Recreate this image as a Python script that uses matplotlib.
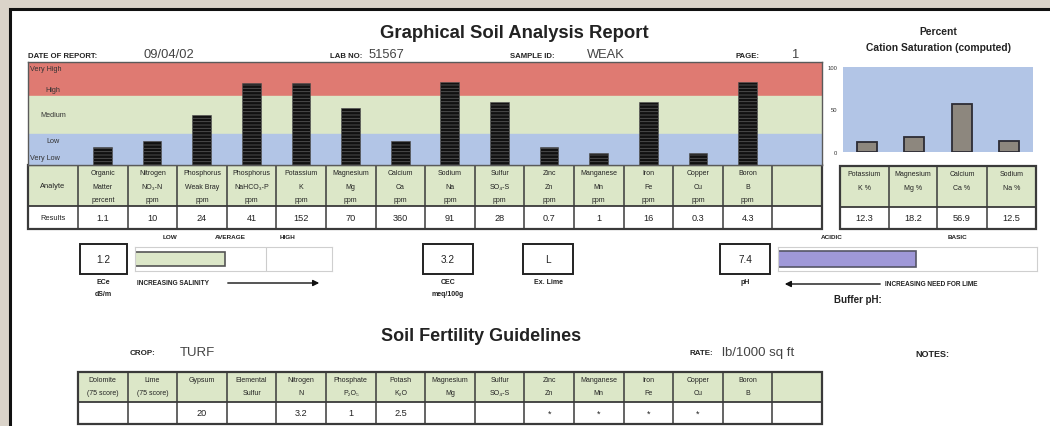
"""
Graphical Soil Analysis Report - redrawn as a single matplotlib figure.
"""

import matplotlib.pyplot as plt
import matplotlib.patches as mpatches

plt.rcParams['font.family'] = ['Liberation Sans', 'DejaVu Sans']
plt.rcParams['hatch.linewidth'] = 0.6

W, H = 1050, 427

# ---- data ---------------------------------------------------------------
report_date = '09/04/02'
lab_no = '51567'
sample_id = 'WEAK'
page_no = '1'

analytes = [
    'Organic\nMatter\npercent', 'Nitrogen\nNO₃-N\nppm', 'Phosphorus\nWeak Bray\nppm',
    'Phosphorus\nNaHCO₃-P\nppm', 'Potassium\nK\nppm', 'Magnesium\nMg\nppm',
    'Calcium\nCa\nppm', 'Sodium\nNa\nppm', 'Sulfur\nSO₄-S\nppm', 'Zinc\nZn\nppm',
    'Manganese\nMn\nppm', 'Iron\nFe\nppm', 'Copper\nCu\nppm', 'Boron\nB\nppm', '',
]
results = ['1.1', '10', '24', '41', '152', '70', '360', '91', '28', '0.7',
           '1', '16', '0.3', '4.3', '']
# relative rating (0 = very low ... 100 = very high)
ratings = [17, 23, 49, 80, 80, 55, 23, 81, 61, 17, 12, 61, 12, 81]

band_names = ['Very High', 'High', 'Medium', 'Low', 'Very Low']
band_pos = [94, 73, 49, 24, 7]

cations = ['Potassium\nK %', 'Magnesium\nMg %', 'Calcium\nCa %', 'Sodium\nNa %']
cation_pct = [12.3, 18.2, 56.9, 12.5]

ece = '1.2'
salinity_level = 1.37      # on LOW / AVERAGE / HIGH scale 0..3
cec = '3.2'
ex_lime = 'L'
ph = '7.4'
ph_value = 7.4

crop = 'TURF'
rate = 'lb/1000 sq ft'
guide_headers = [
    'Dolomite\n(75 score)', 'Lime\n(75 score)', 'Gypsum\n', 'Elemental\nSulfur',
    'Nitrogen\nN', 'Phosphate\nP₂O₅', 'Potash\nK₂O', 'Magnesium\nMg',
    'Sulfur\nSO₄-S', 'Zinc\nZn', 'Manganese\nMn', 'Iron\nFe', 'Copper\nCu',
    'Boron\nB', '',
]
guide_values = ['', '', '20', '', '3.2', '1', '2.5', '', '', '*', '*', '*', '*', '', '']

# ---- colours ------------------------------------------------------------
RED = '#df7a72'
GREEN = '#dce7c8'
BLUE = '#b2c5e6'
LINE = '#3a3a3a'


def rect(x0, y0, x1, y1):
    return [x0 / W, 1 - y1 / H, (x1 - x0) / W, (y1 - y0) / H]


fig = plt.figure(figsize=(W / 100, H / 100), dpi=100)
fig.patch.set_facecolor('#dad3c9')

pg = fig.add_axes([0, 0, 1, 1])
pg.set_xlim(0, W)
pg.set_ylim(H, 0)
pg.axis('off')

# white page with dark border
pg.add_patch(mpatches.Rectangle((10, 10), 1060, 440, facecolor='white',
                                edgecolor='#111111', linewidth=2.2))


def txt(x, y, s, size=5, bold=False, ha='left', color='#222222'):
    pg.text(x, y, s, fontsize=size, fontweight='bold' if bold else 'normal',
            ha=ha, va='center', color=color)


def table(edges, y_head, y_val, headers, values, lines_y, first=None):
    y0, y1 = y_head
    y2 = y_val
    pg.add_patch(mpatches.Rectangle((edges[0], y0), edges[-1] - edges[0], y1 - y0,
                                    facecolor=GREEN, edgecolor='none'))
    pg.add_patch(mpatches.Rectangle((edges[0], y0), edges[-1] - edges[0], y2 - y0,
                                    facecolor='none', edgecolor=LINE, linewidth=1.6))
    pg.plot([edges[0], edges[-1]], [y1, y1], color=LINE, lw=1.3)
    for e in edges[1:-1]:
        pg.plot([e, e], [y0, y2], color=LINE, lw=1.1)
    start = 0
    if first is not None:
        # label column: one word centred in each row
        cx = (edges[0] + edges[1]) / 2
        txt(cx, (y0 + y1) / 2, first[0], size=5.4, ha='center')
        txt(cx, (y1 + y2) / 2, first[1], size=5.4, ha='center')
        start = 1
    for i, (h, v) in enumerate(zip(headers, values)):
        cx = (edges[i + start] + edges[i + start + 1]) / 2
        for k, line in enumerate(h.split('\n')):
            txt(cx, lines_y[k], line, size=5.0, ha='center')
        txt(cx, (y1 + y2) / 2, v, size=6.6, ha='center')


# ---- header -------------------------------------------------------------
txt(514, 34, 'Graphical Soil Analysis Report', size=13.3, bold=True, ha='center')
txt(28, 56, 'DATE OF REPORT:', size=5.6, bold=True)
txt(143, 55, report_date, size=9.3, color='#444444')
txt(330, 56, 'LAB NO:', size=5.6, bold=True)
txt(369, 55, lab_no, size=9.3, color='#444444')
txt(510, 56, 'SAMPLE ID:', size=5.6, bold=True)
txt(587, 55, sample_id, size=9.3, color='#444444')
txt(735, 56, 'PAGE:', size=5.6, bold=True)
txt(792, 55, page_no, size=9.3, color='#444444')

# ---- main rating chart --------------------------------------------------
ax = fig.add_axes(rect(28, 63, 822, 166))
ax.axhspan(67, 100, color=RED)
ax.axhspan(30, 67, color=GREEN)
ax.axhspan(0, 30, color=BLUE)
ax.bar(range(len(ratings)), ratings, width=0.38, color='#111111',
       edgecolor='#555555', hatch='-----', linewidth=0.4)
for name, yv in zip(band_names, band_pos):
    ax.text(-1.45 if ' ' in name else -1.0, yv, name, fontsize=5.2,
            ha='left' if ' ' in name else 'center', va='center', color='#333333')
ax.set_xlim(-1.5, 14.5)
ax.set_ylim(0, 100)
ax.set_xticks([])
ax.set_yticks([])
for s in ax.spines.values():
    s.set_color('#5a5a5a')
    s.set_linewidth(1.0)

col_w = (822 - 78) / 15
edges = [28] + [78 + col_w * i for i in range(16)]
table(edges, (166, 207), 230, analytes, results, [174, 188, 201],
      first=('Analyte', 'Results'))

# ---- cation saturation ---------------------------------------------------
txt(938, 32, 'Percent', size=7.4, bold=True, ha='center')
txt(938, 48, 'Cation Saturation (computed)', size=7.4, bold=True, ha='center')
cx_ax = fig.add_axes(rect(843, 68, 1033, 153))
cx_ax.set_facecolor(BLUE)
cx_ax.bar(range(len(cation_pct)), cation_pct, width=0.42, color='#8d877e',
          edgecolor='#2c2c34', linewidth=1.3)
cx_ax.set_xlim(-0.5, 3.5)
cx_ax.set_ylim(0, 100)
cx_ax.set_xticks([])
cx_ax.set_yticks([0, 50, 100])
cx_ax.tick_params(axis='y', labelsize=4.2, length=0, pad=4, labelcolor='#333333')
for s in cx_ax.spines.values():
    s.set_visible(False)

cat_edges = [840, 889, 937, 987, 1036]
table(cat_edges, (167, 208), 230, cations, [f'{v:.1f}' for v in cation_pct],
      [175, 189])

# ---- salinity / CEC / lime / pH ------------------------------------------
txt(170, 238, 'LOW', size=4.6, bold=True, ha='center')
txt(230, 238, 'AVERAGE', size=4.6, bold=True, ha='center')
txt(287, 238, 'HIGH', size=4.6, bold=True, ha='center')
txt(832, 238, 'ACIDIC', size=4.6, bold=True, ha='center')
txt(958, 238, 'BASIC', size=4.6, bold=True, ha='center')

for (x0, x1), val, labels in [((80, 127), ece, ['ECe', 'dS/m']),
                              ((423, 473), cec, ['CEC', 'meq/100g']),
                              ((523, 573), ex_lime, ['Ex. Lime']),
                              ((720, 770), ph, ['pH'])]:
    pg.add_patch(mpatches.Rectangle((x0, 245), x1 - x0, 30, facecolor='white',
                                    edgecolor='#222222', linewidth=1.4))
    txt((x0 + x1) / 2, 260, val, size=7.2, ha='center')
    for k, lab in enumerate(labels):
        txt((x0 + x1) / 2, 283 + 12 * k, lab, size=5.0, bold=True, ha='center')

sal = fig.add_axes(rect(135, 248, 332, 272))
sal.barh([0], [salinity_level], height=0.62, color=GREEN, edgecolor='#555555',
         linewidth=1.2, align='center')
sal.axvline(2, color='#cccccc', lw=0.8)
sal.set_xlim(0, 3)
sal.set_ylim(-0.5, 0.5)
sal.set_xticks([])
sal.set_yticks([])
for s in sal.spines.values():
    s.set_color('#cfcfcf')

phx = fig.add_axes(rect(778, 248, 1037, 272))
phx.barh([0], [ph_value - 4], left=4, height=0.7, color='#9f98d8',
         edgecolor='#555566', linewidth=1.2)
phx.set_xlim(4, 10.4)
phx.set_ylim(-0.5, 0.5)
phx.set_xticks([])
phx.set_yticks([])
for s in phx.spines.values():
    s.set_color('#cfcfcf')

txt(137, 284, 'INCREASING SALINITY', size=4.7, bold=True)
pg.annotate('', xy=(322, 284), xytext=(225, 284),
            arrowprops=dict(arrowstyle='-|>', color='#111111', lw=1.0,
                            mutation_scale=9))
txt(885, 285, 'INCREASING NEED FOR LIME', size=4.7, bold=True)
pg.annotate('', xy=(782, 285), xytext=(883, 285),
            arrowprops=dict(arrowstyle='-|>', color='#111111', lw=1.0,
                            mutation_scale=9))
txt(834, 300, 'Buffer pH:', size=7.0, bold=True)

# ---- fertility guidelines -------------------------------------------------
txt(481, 337, 'Soil Fertility Guidelines', size=13.0, bold=True, ha='center')
txt(130, 354, 'CROP:', size=5.8, bold=True)
txt(180, 353, crop, size=9.5, color='#444444')
txt(690, 354, 'RATE:', size=5.8, bold=True)
txt(722, 353, rate, size=9.5, color='#444444')
txt(915, 355, 'NOTES:', size=6.5, bold=True)

g_edges = [78 + col_w * i for i in range(16)]
table(g_edges, (373, 403), 425, guide_headers, guide_values, [381, 394])

fig.savefig('out.png', dpi=100, facecolor=fig.get_facecolor())
